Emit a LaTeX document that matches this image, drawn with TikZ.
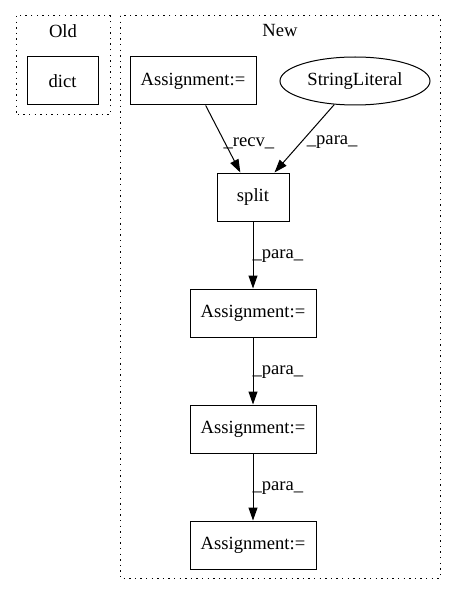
\documentclass[tikz,border=0pt]{standalone}
\usepackage{fontspec}
\setmainfont{Liberation Serif}
\usetikzlibrary{arrows.meta,shapes.geometric}
\begin{document}
\begin{tikzpicture}[x=1pt,y=-1pt,
  every node/.style={font=\fontsize{18.6}{22}\selectfont, inner sep=0pt},
  box/.style={draw, line width=1pt, minimum height=48pt, rectangle},
  oval/.style={draw, line width=1pt, ellipse, minimum width=150pt, minimum height=48pt},
  cluster/.style={draw, line width=1pt, dash pattern=on 1.4pt off 4.2pt},
  edge/.style={draw, line width=1pt, -{Triangle[length=13pt,width=9pt]}},
  elabel/.style={anchor=west, inner sep=0pt}]
\useasboundingbox (0,0) rectangle (456,596);
% clusters
\draw[cluster] (16,16) rectangle (110,115);
\node (oldlbl) at (63,31) {Old};
\draw[cluster] (120,16) rectangle (440,578);
\node (newlbl) at (280,31) {New};
% nodes
\node[box, minimum width=71pt] (dict) at (62.5,81) {dict};
\node[box, minimum width=126pt] (a1) at (193,81) {Assignment:=};
\node[oval] (sl) at (355,81) {StringLiteral};
\node[box, minimum width=72pt] (split) at (253,197) {split};
\node[box, minimum width=126pt] (a2) at (253,313) {Assignment:=};
\node[box, minimum width=126pt] (a3) at (253,429) {Assignment:=};
\node[box, minimum width=126pt] (a4) at (253,545) {Assignment:=};
% edges
\draw[edge] (a1) -- node[elabel, xshift=0pt, yshift=-4pt] (l1) {\_recv\_} (split);
\draw[edge] (sl) -- node[elabel, xshift=2pt, yshift=-4pt] (l2) {\_para\_} (split);
\draw[edge] (split) -- node[elabel, xshift=-1pt, yshift=-1pt] (l3) {\_para\_} (a2);
\draw[edge] (a2) -- node[elabel, xshift=-1pt, yshift=-1pt] (l4) {\_para\_} (a3);
\draw[edge] (a3) -- node[elabel, xshift=-1pt, yshift=-1pt] (l5) {\_para\_} (a4);
\end{tikzpicture}
\end{document}
